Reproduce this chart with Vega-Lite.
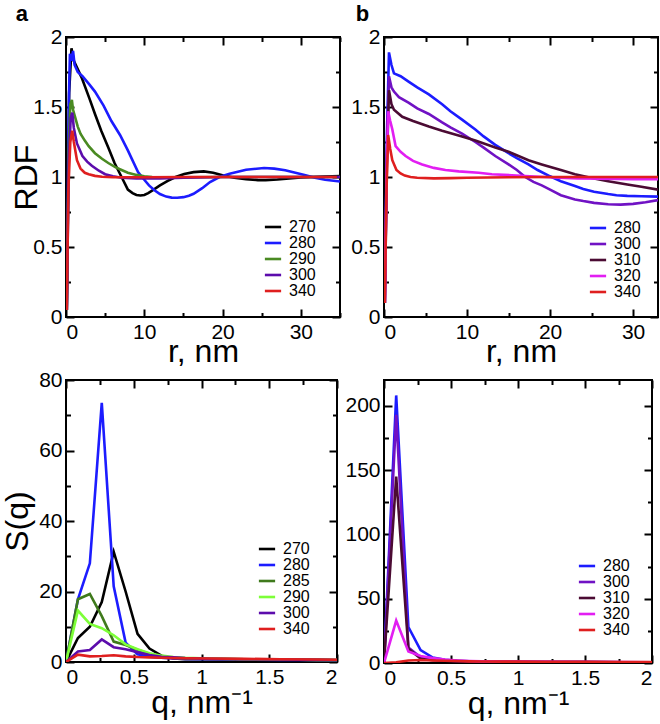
{
  "$schema": "https://vega.github.io/schema/vega-lite/v6.json",
  "padding": {"left": 0, "top": 2, "right": 2, "bottom": 2},
  "background": "white",
  "config": {
    "font": "Liberation Sans",
    "view": {"stroke": "black", "strokeWidth": 2},
    "axis": {"grid": false, "domain": false, "tickColor": "black", "tickWidth": 2, "labelColor": "black", "labelFont": "Liberation Sans", "labelFontSize": 21, "titleFont": "Liberation Sans", "titleFontSize": 32, "titleFontWeight": "normal", "titleColor": "black", "format": "~r", "labelPadding": 12},
    "legend": {"orient": "none", "title": null, "symbolType": "M-1.3,0H1.3", "symbolStrokeWidth": 2.6, "symbolSize": 156, "labelFontSize": 16, "labelFont": "Liberation Sans", "labelColor": "black", "rowPadding": 0, "labelOffset": 8, "padding": 0},
    "title": {"font": "Liberation Sans", "fontSize": 22, "fontWeight": "bold", "color": "black", "anchor": "start", "frame": "bounds"}
  },
  "datasets": {
    "rdfA": [
      {"T":"270","r":0.1,"g":0.05},{"T":"270","r":0.4,"g":1.6},{"T":"270","r":0.7,"g":1.92},{"T":"270","r":1.0,"g":1.83},{"T":"270","r":2.0,"g":1.71},{"T":"270","r":3.0,"g":1.56},{"T":"270","r":3.7,"g":1.45},{"T":"270","r":4.5,"g":1.33},{"T":"270","r":5.4,"g":1.21},{"T":"270","r":6.2,"g":1.1},{"T":"270","r":7.1,"g":1.0},{"T":"270","r":7.9,"g":0.91},{"T":"270","r":8.5,"g":0.885},{"T":"270","r":9.0,"g":0.872},{"T":"270","r":9.5,"g":0.868},{"T":"270","r":10.0,"g":0.872},{"T":"270","r":10.5,"g":0.885},{"T":"270","r":11.2,"g":0.91},{"T":"270","r":12.0,"g":0.94},{"T":"270","r":13.0,"g":0.972},{"T":"270","r":14.0,"g":1.0},{"T":"270","r":15.1,"g":1.022},{"T":"270","r":16.3,"g":1.035},{"T":"270","r":17.6,"g":1.04},{"T":"270","r":18.8,"g":1.03},{"T":"270","r":20.1,"g":1.01},{"T":"270","r":21.5,"g":0.995},{"T":"270","r":23.0,"g":0.985},{"T":"270","r":24.5,"g":0.978},{"T":"270","r":25.5,"g":0.977},{"T":"270","r":27.0,"g":0.982},{"T":"270","r":28.5,"g":0.99},{"T":"270","r":30.0,"g":0.996},{"T":"270","r":31.5,"g":1.0},{"T":"270","r":33.0,"g":1.004},{"T":"270","r":35.0,"g":1.007},
      {"T":"280","r":0.1,"g":0.05},{"T":"280","r":0.35,"g":1.5},{"T":"280","r":0.5,"g":1.88},{"T":"280","r":0.7,"g":1.83},{"T":"280","r":0.9,"g":1.9},{"T":"280","r":1.1,"g":1.8},{"T":"280","r":1.5,"g":1.75},{"T":"280","r":2.1,"g":1.72},{"T":"280","r":3.0,"g":1.66},{"T":"280","r":3.7,"g":1.61},{"T":"280","r":4.8,"g":1.51},{"T":"280","r":5.8,"g":1.4},{"T":"280","r":6.9,"g":1.3},{"T":"280","r":7.9,"g":1.19},{"T":"280","r":9.2,"g":1.035},{"T":"280","r":10.0,"g":0.98},{"T":"280","r":10.6,"g":0.94},{"T":"280","r":11.3,"g":0.905},{"T":"280","r":12.0,"g":0.878},{"T":"280","r":12.8,"g":0.86},{"T":"280","r":13.5,"g":0.853},{"T":"280","r":14.2,"g":0.852},{"T":"280","r":15.0,"g":0.856},{"T":"280","r":15.7,"g":0.866},{"T":"280","r":16.3,"g":0.88},{"T":"280","r":17.4,"g":0.92},{"T":"280","r":18.4,"g":0.964},{"T":"280","r":19.6,"g":1.0},{"T":"280","r":20.9,"g":1.024},{"T":"280","r":23.0,"g":1.052},{"T":"280","r":25.3,"g":1.064},{"T":"280","r":26.6,"g":1.06},{"T":"280","r":28.0,"g":1.048},{"T":"280","r":29.3,"g":1.03},{"T":"280","r":30.6,"g":1.012},{"T":"280","r":31.8,"g":0.995},{"T":"280","r":33.1,"g":0.98},{"T":"280","r":35.0,"g":0.968},
      {"T":"290","r":0.1,"g":0.05},{"T":"290","r":0.35,"g":1.2},{"T":"290","r":0.55,"g":1.52},{"T":"290","r":0.75,"g":1.55},{"T":"290","r":0.9,"g":1.48},{"T":"290","r":1.2,"g":1.42},{"T":"290","r":1.5,"g":1.36},{"T":"290","r":1.85,"g":1.31},{"T":"290","r":2.4,"g":1.26},{"T":"290","r":2.9,"g":1.22},{"T":"290","r":3.7,"g":1.17},{"T":"290","r":4.6,"g":1.13},{"T":"290","r":5.4,"g":1.1},{"T":"290","r":6.3,"g":1.07},{"T":"290","r":7.1,"g":1.05},{"T":"290","r":7.9,"g":1.03},{"T":"290","r":9.0,"g":1.015},{"T":"290","r":10.0,"g":1.005},{"T":"290","r":11.0,"g":1.0},{"T":"290","r":12.0,"g":0.998},{"T":"290","r":15.0,"g":0.998},{"T":"290","r":20.0,"g":1.0},{"T":"290","r":25.0,"g":1.0},{"T":"290","r":30.0,"g":1.0},{"T":"290","r":35.0,"g":1.0},
      {"T":"300","r":0.1,"g":0.05},{"T":"300","r":0.35,"g":1.1},{"T":"300","r":0.6,"g":1.42},{"T":"300","r":0.8,"g":1.46},{"T":"300","r":1.0,"g":1.35},{"T":"300","r":1.4,"g":1.24},{"T":"300","r":2.1,"g":1.15},{"T":"300","r":2.7,"g":1.11},{"T":"300","r":3.3,"g":1.08},{"T":"300","r":4.2,"g":1.045},{"T":"300","r":5.0,"g":1.02},{"T":"300","r":6.0,"g":1.005},{"T":"300","r":7.1,"g":0.995},{"T":"300","r":9.0,"g":0.99},{"T":"300","r":12.0,"g":0.99},{"T":"300","r":15.0,"g":0.995},{"T":"300","r":20.0,"g":1.0},{"T":"300","r":25.0,"g":1.0},{"T":"300","r":30.0,"g":1.0},{"T":"300","r":35.0,"g":1.0},
      {"T":"340","r":0.1,"g":0.05},{"T":"340","r":0.3,"g":0.9},{"T":"340","r":0.55,"g":1.25},{"T":"340","r":0.8,"g":1.33},{"T":"340","r":1.0,"g":1.25},{"T":"340","r":1.4,"g":1.12},{"T":"340","r":1.85,"g":1.06},{"T":"340","r":2.4,"g":1.03},{"T":"340","r":2.9,"g":1.02},{"T":"340","r":3.7,"g":1.008},{"T":"340","r":4.6,"g":1.002},{"T":"340","r":6.0,"g":0.998},{"T":"340","r":10.0,"g":0.998},{"T":"340","r":15.0,"g":1.0},{"T":"340","r":20.0,"g":1.0},{"T":"340","r":25.0,"g":1.0},{"T":"340","r":30.0,"g":1.0},{"T":"340","r":34.6,"g":1.0}
    ],
    "rdfB": [
      {"T":"280","r":0.1,"g":0.1},{"T":"280","r":0.35,"g":1.3},{"T":"280","r":0.6,"g":1.89},{"T":"280","r":0.9,"g":1.8},{"T":"280","r":1.2,"g":1.74},{"T":"280","r":2.0,"g":1.72},{"T":"280","r":3.0,"g":1.68},{"T":"280","r":4.0,"g":1.64},{"T":"280","r":5.4,"g":1.59},{"T":"280","r":7.0,"g":1.52},{"T":"280","r":8.0,"g":1.47},{"T":"280","r":9.4,"g":1.41},{"T":"280","r":11.0,"g":1.34},{"T":"280","r":12.0,"g":1.29},{"T":"280","r":13.4,"g":1.23},{"T":"280","r":15.0,"g":1.17},{"T":"280","r":16.0,"g":1.135},{"T":"280","r":17.4,"g":1.09},{"T":"280","r":18.5,"g":1.05},{"T":"280","r":20.0,"g":1.005},{"T":"280","r":21.3,"g":0.97},{"T":"280","r":23.0,"g":0.935},{"T":"280","r":24.0,"g":0.915},{"T":"280","r":25.3,"g":0.895},{"T":"280","r":27.0,"g":0.878},{"T":"280","r":28.0,"g":0.87},{"T":"280","r":29.3,"g":0.865},{"T":"280","r":31.0,"g":0.862},{"T":"280","r":33.0,"g":0.86},
      {"T":"300","r":0.1,"g":0.1},{"T":"300","r":0.35,"g":1.2},{"T":"300","r":0.6,"g":1.72},{"T":"300","r":0.9,"g":1.64},{"T":"300","r":1.2,"g":1.61},{"T":"300","r":1.8,"g":1.57},{"T":"300","r":3.0,"g":1.53},{"T":"300","r":4.0,"g":1.49},{"T":"300","r":5.4,"g":1.45},{"T":"300","r":7.0,"g":1.39},{"T":"300","r":8.0,"g":1.355},{"T":"300","r":9.4,"g":1.31},{"T":"300","r":11.0,"g":1.25},{"T":"300","r":12.0,"g":1.21},{"T":"300","r":13.4,"g":1.15},{"T":"300","r":15.0,"g":1.09},{"T":"300","r":16.0,"g":1.05},{"T":"300","r":17.0,"g":1.0},{"T":"300","r":18.0,"g":0.965},{"T":"300","r":19.0,"g":0.94},{"T":"300","r":20.0,"g":0.91},{"T":"300","r":21.3,"g":0.87},{"T":"300","r":23.0,"g":0.84},{"T":"300","r":24.0,"g":0.828},{"T":"300","r":25.3,"g":0.815},{"T":"300","r":27.0,"g":0.805},{"T":"300","r":28.5,"g":0.803},{"T":"300","r":30.0,"g":0.808},{"T":"300","r":31.5,"g":0.82},{"T":"300","r":33.0,"g":0.835},
      {"T":"310","r":0.1,"g":0.1},{"T":"310","r":0.35,"g":1.1},{"T":"310","r":0.6,"g":1.62},{"T":"310","r":0.9,"g":1.52},{"T":"310","r":1.2,"g":1.48},{"T":"310","r":2.2,"g":1.43},{"T":"310","r":3.5,"g":1.4},{"T":"310","r":5.4,"g":1.36},{"T":"310","r":7.0,"g":1.33},{"T":"310","r":9.4,"g":1.29},{"T":"310","r":11.0,"g":1.26},{"T":"310","r":13.4,"g":1.21},{"T":"310","r":15.0,"g":1.18},{"T":"310","r":17.4,"g":1.12},{"T":"310","r":19.0,"g":1.09},{"T":"310","r":21.3,"g":1.05},{"T":"310","r":23.0,"g":1.02},{"T":"310","r":25.3,"g":0.99},{"T":"310","r":27.0,"g":0.97},{"T":"310","r":29.3,"g":0.946},{"T":"310","r":31.0,"g":0.93},{"T":"310","r":33.0,"g":0.91},
      {"T":"320","r":0.1,"g":0.1},{"T":"320","r":0.3,"g":1.0},{"T":"320","r":0.5,"g":1.47},{"T":"320","r":0.75,"g":1.4},{"T":"320","r":1.0,"g":1.34},{"T":"320","r":1.4,"g":1.22},{"T":"320","r":2.0,"g":1.18},{"T":"320","r":2.6,"g":1.15},{"T":"320","r":3.5,"g":1.115},{"T":"320","r":4.6,"g":1.09},{"T":"320","r":6.0,"g":1.065},{"T":"320","r":7.4,"g":1.05},{"T":"320","r":9.0,"g":1.04},{"T":"320","r":11.4,"g":1.03},{"T":"320","r":13.0,"g":1.02},{"T":"320","r":15.4,"g":1.013},{"T":"320","r":17.0,"g":1.007},{"T":"320","r":19.3,"g":1.0},{"T":"320","r":21.0,"g":0.995},{"T":"320","r":23.3,"g":0.99},{"T":"320","r":26.0,"g":0.987},{"T":"320","r":30.0,"g":0.985},{"T":"320","r":33.0,"g":0.985},
      {"T":"340","r":0.1,"g":0.1},{"T":"340","r":0.3,"g":0.9},{"T":"340","r":0.5,"g":1.3},{"T":"340","r":0.75,"g":1.2},{"T":"340","r":1.0,"g":1.12},{"T":"340","r":1.5,"g":1.05},{"T":"340","r":2.0,"g":1.025},{"T":"340","r":2.5,"g":1.01},{"T":"340","r":3.2,"g":1.0},{"T":"340","r":4.0,"g":0.995},{"T":"340","r":6.0,"g":0.99},{"T":"340","r":8.0,"g":0.992},{"T":"340","r":10.0,"g":0.995},{"T":"340","r":15.0,"g":0.998},{"T":"340","r":20.0,"g":1.0},{"T":"340","r":25.0,"g":1.0},{"T":"340","r":30.0,"g":1.0},{"T":"340","r":33.0,"g":1.0}
    ],
    "sqA": [
      {"T":"270","q":0,"s":0},{"T":"270","q":0.088,"s":6.8},{"T":"270","q":0.176,"s":10},{"T":"270","q":0.264,"s":17},{"T":"270","q":0.352,"s":31.3},{"T":"270","q":0.44,"s":20},{"T":"270","q":0.528,"s":8},{"T":"270","q":0.616,"s":3.8},{"T":"270","q":0.704,"s":1.8},{"T":"270","q":0.792,"s":1.0},{"T":"270","q":0.88,"s":0.8},{"T":"270","q":1.06,"s":0.8},{"T":"270","q":1.32,"s":0.7},{"T":"270","q":1.58,"s":0.6},{"T":"270","q":1.85,"s":0.55},{"T":"270","q":2.0,"s":0.5},
      {"T":"280","q":0,"s":0},{"T":"280","q":0.088,"s":17.8},{"T":"280","q":0.176,"s":28},{"T":"280","q":0.264,"s":73.5},{"T":"280","q":0.352,"s":21.5},{"T":"280","q":0.44,"s":5.5},{"T":"280","q":0.528,"s":2.2},{"T":"280","q":0.616,"s":1.5},{"T":"280","q":0.704,"s":1.2},{"T":"280","q":0.792,"s":1.0},{"T":"280","q":0.88,"s":0.9},{"T":"280","q":1.06,"s":0.8},{"T":"280","q":1.32,"s":0.7},{"T":"280","q":1.58,"s":0.6},{"T":"280","q":1.85,"s":0.55},{"T":"280","q":2.0,"s":0.5},
      {"T":"285","q":0,"s":0},{"T":"285","q":0.088,"s":17.8},{"T":"285","q":0.176,"s":19.3},{"T":"285","q":0.264,"s":13},{"T":"285","q":0.352,"s":5.8},{"T":"285","q":0.44,"s":4.8},{"T":"285","q":0.528,"s":3.5},{"T":"285","q":0.616,"s":2.3},{"T":"285","q":0.704,"s":1.5},{"T":"285","q":0.792,"s":1.2},{"T":"285","q":0.88,"s":1.0},{"T":"285","q":1.06,"s":0.9},{"T":"285","q":1.32,"s":0.8},{"T":"285","q":1.58,"s":0.7},{"T":"285","q":1.85,"s":0.6},{"T":"285","q":2.0,"s":0.55},
      {"T":"290","q":0,"s":0},{"T":"290","q":0.088,"s":14.6},{"T":"290","q":0.176,"s":10.8},{"T":"290","q":0.264,"s":9.6},{"T":"290","q":0.352,"s":7.6},{"T":"290","q":0.44,"s":5.0},{"T":"290","q":0.528,"s":3.6},{"T":"290","q":0.616,"s":2.5},{"T":"290","q":0.704,"s":1.8},{"T":"290","q":0.792,"s":1.4},{"T":"290","q":0.88,"s":1.2},{"T":"290","q":1.06,"s":1.0},{"T":"290","q":1.32,"s":0.8},{"T":"290","q":1.58,"s":0.7},{"T":"290","q":1.85,"s":0.6},{"T":"290","q":2.0,"s":0.55},
      {"T":"300","q":0,"s":0},{"T":"300","q":0.088,"s":3.0},{"T":"300","q":0.176,"s":3.4},{"T":"300","q":0.264,"s":6.4},{"T":"300","q":0.352,"s":4.2},{"T":"300","q":0.44,"s":3.6},{"T":"300","q":0.528,"s":2.8},{"T":"300","q":0.616,"s":2.0},{"T":"300","q":0.704,"s":1.5},{"T":"300","q":0.792,"s":1.3},{"T":"300","q":0.88,"s":1.1},{"T":"300","q":1.06,"s":0.9},{"T":"300","q":1.32,"s":0.8},{"T":"300","q":1.58,"s":0.7},{"T":"300","q":1.85,"s":0.6},{"T":"300","q":2.0,"s":0.55},
      {"T":"340","q":0,"s":0},{"T":"340","q":0.088,"s":2.1},{"T":"340","q":0.176,"s":1.6},{"T":"340","q":0.264,"s":1.7},{"T":"340","q":0.352,"s":1.9},{"T":"340","q":0.44,"s":1.6},{"T":"340","q":0.528,"s":1.4},{"T":"340","q":0.616,"s":1.3},{"T":"340","q":0.704,"s":1.2},{"T":"340","q":0.792,"s":1.1},{"T":"340","q":0.88,"s":1.05},{"T":"340","q":1.06,"s":1.0},{"T":"340","q":1.32,"s":0.9},{"T":"340","q":1.58,"s":0.8},{"T":"340","q":1.85,"s":0.7},{"T":"340","q":2.0,"s":0.65}
    ],
    "sqB": [
      {"T":"280","q":0,"s":0},{"T":"280","q":0.091,"s":208},{"T":"280","q":0.182,"s":28},{"T":"280","q":0.273,"s":10},{"T":"280","q":0.364,"s":4.2},{"T":"280","q":0.455,"s":2.5},{"T":"280","q":0.546,"s":1.8},{"T":"280","q":0.637,"s":1.4},{"T":"280","q":0.728,"s":1.2},{"T":"280","q":0.9,"s":1.0},{"T":"280","q":1.2,"s":0.8},{"T":"280","q":1.5,"s":0.7},{"T":"280","q":1.8,"s":0.6},{"T":"280","q":2.0,"s":0.5},
      {"T":"300","q":0,"s":0},{"T":"300","q":0.091,"s":193},{"T":"300","q":0.182,"s":12},{"T":"300","q":0.273,"s":4.5},{"T":"300","q":0.364,"s":2.8},{"T":"300","q":0.455,"s":2.0},{"T":"300","q":0.546,"s":1.5},{"T":"300","q":0.637,"s":1.2},{"T":"300","q":0.728,"s":1.0},{"T":"300","q":0.9,"s":0.9},{"T":"300","q":1.2,"s":0.8},{"T":"300","q":1.5,"s":0.7},{"T":"300","q":1.8,"s":0.6},{"T":"300","q":2.0,"s":0.5},
      {"T":"310","q":0,"s":0},{"T":"310","q":0.091,"s":145},{"T":"310","q":0.182,"s":11},{"T":"310","q":0.273,"s":3.5},{"T":"310","q":0.364,"s":2.2},{"T":"310","q":0.455,"s":1.7},{"T":"310","q":0.546,"s":1.3},{"T":"310","q":0.637,"s":1.1},{"T":"310","q":0.728,"s":1.0},{"T":"310","q":0.9,"s":0.9},{"T":"310","q":1.2,"s":0.8},{"T":"310","q":1.5,"s":0.7},{"T":"310","q":1.8,"s":0.6},{"T":"310","q":2.0,"s":0.5},
      {"T":"320","q":0,"s":0},{"T":"320","q":0.091,"s":33},{"T":"320","q":0.182,"s":9},{"T":"320","q":0.273,"s":5.5},{"T":"320","q":0.364,"s":3.8},{"T":"320","q":0.455,"s":2.6},{"T":"320","q":0.546,"s":2.0},{"T":"320","q":0.637,"s":1.6},{"T":"320","q":0.728,"s":1.3},{"T":"320","q":0.9,"s":1.1},{"T":"320","q":1.2,"s":0.9},{"T":"320","q":1.5,"s":0.8},{"T":"320","q":1.8,"s":0.7},{"T":"320","q":2.0,"s":0.6},
      {"T":"340","q":0,"s":0},{"T":"340","q":0.091,"s":0.6},{"T":"340","q":0.182,"s":2.0},{"T":"340","q":0.273,"s":2.3},{"T":"340","q":0.364,"s":2.0},{"T":"340","q":0.455,"s":1.7},{"T":"340","q":0.546,"s":1.5},{"T":"340","q":0.637,"s":1.3},{"T":"340","q":0.728,"s":1.2},{"T":"340","q":0.9,"s":1.1},{"T":"340","q":1.2,"s":1.0},{"T":"340","q":1.5,"s":0.9},{"T":"340","q":1.8,"s":0.8},{"T":"340","q":2.0,"s":0.7}
    ]
  },
  "vconcat": [
    {
      "hconcat": [
        {
          "width": 274, "height": 280,
          "title": {"text": "a", "offset": 0, "dx": 5},
          "data": {"name": "rdfA"},
          "layer": [
            {
              "mark": {"type": "line", "strokeWidth": 2.6, "clip": true},
              "encoding": {
                "x": {"field": "r", "type": "quantitative", "scale": {"domain": [0, 35], "nice": false, "zero": false},
                  "axis": {"orient": "bottom", "values": [0,5,10,15,20,25,30,35], "labelExpr": "datum.value % 10 === 0 ? datum.label : ''", "tickSize": {"condition": {"test": "datum.value % 10 === 0", "value": -8}, "value": -4.5}, "title": "r, nm", "titlePadding": -6}},
                "y": {"field": "g", "type": "quantitative", "scale": {"domain": [0, 2], "nice": false, "zero": false},
                  "axis": {"orient": "left", "values": [0,0.25,0.5,0.75,1,1.25,1.5,1.75,2], "labelExpr": "datum.value % 0.5 === 0 ? datum.label : ''", "tickSize": {"condition": {"test": "datum.value % 0.5 === 0", "value": -8}, "value": -4.5}, "title": "RDF", "titlePadding": -11}},
                "color": {"field": "T", "type": "nominal", "scale": {"domain": ["270","280","290","300","340"], "range": ["#000000","#1c1cff","#4a8a22","#5c0cac","#df1f1f"]},
                  "legend": {"legendX": 199, "legendY": 182}}
              }
            },
            {
              "mark": {"type": "line", "opacity": 0},
              "encoding": {
                "x": {"field": "r", "type": "quantitative", "axis": {"orient": "top", "values": [0,5,10,15,20,25,30,35], "labels": false, "title": null, "tickSize": {"condition": {"test": "datum.value % 10 === 0", "value": -8}, "value": -4.5}}},
                "y": {"field": "g", "type": "quantitative", "axis": {"orient": "right", "values": [0,0.25,0.5,0.75,1,1.25,1.5,1.75,2], "labels": false, "title": null, "tickSize": {"condition": {"test": "datum.value % 0.5 === 0", "value": -8}, "value": -4.5}}}
              }
            }
          ],
          "resolve": {"axis": {"x": "independent", "y": "independent"}}
        },
        {
          "width": 274, "height": 280,
          "title": {"text": "b", "offset": 0, "dx": 5},
          "data": {"name": "rdfB"},
          "layer": [
            {
              "mark": {"type": "line", "strokeWidth": 2.6, "clip": true},
              "encoding": {
                "x": {"field": "r", "type": "quantitative", "scale": {"domain": [0, 33], "nice": false, "zero": false},
                  "axis": {"orient": "bottom", "values": [0,5,10,15,20,25,30], "labelExpr": "datum.value % 10 === 0 ? datum.label : ''", "tickSize": {"condition": {"test": "datum.value % 10 === 0", "value": -8}, "value": -4.5}, "title": "r, nm", "titlePadding": -6}},
                "y": {"field": "g", "type": "quantitative", "scale": {"domain": [0, 2], "nice": false, "zero": false},
                  "axis": {"orient": "left", "values": [0,0.25,0.5,0.75,1,1.25,1.5,1.75,2], "labelExpr": "datum.value % 0.5 === 0 ? datum.label : ''", "tickSize": {"condition": {"test": "datum.value % 0.5 === 0", "value": -8}, "value": -4.5}, "title": null}},
                "color": {"field": "T", "type": "nominal", "scale": {"domain": ["280","300","310","320","340"], "range": ["#1c1cff","#7012c4","#4b0b33","#e21ef2","#df1f1f"]},
                  "legend": {"legendX": 206, "legendY": 183}}
              }
            },
            {
              "mark": {"type": "line", "opacity": 0},
              "encoding": {
                "x": {"field": "r", "type": "quantitative", "axis": {"orient": "top", "values": [0,5,10,15,20,25,30], "labels": false, "title": null, "tickSize": {"condition": {"test": "datum.value % 10 === 0", "value": -8}, "value": -4.5}}},
                "y": {"field": "g", "type": "quantitative", "axis": {"orient": "right", "values": [0,0.25,0.5,0.75,1,1.25,1.5,1.75,2], "labels": false, "title": null, "tickSize": {"condition": {"test": "datum.value % 0.5 === 0", "value": -8}, "value": -4.5}}}
              }
            }
          ],
          "resolve": {"axis": {"x": "independent", "y": "independent"}}
        }
      ],
      "spacing": 7,
      "resolve": {"scale": {"color": "independent"}}
    },
    {
      "hconcat": [
        {
          "width": 271, "height": 282,
          "data": {"name": "sqA"},
          "layer": [
            {
              "mark": {"type": "line", "strokeWidth": 2.6, "clip": true},
              "encoding": {
                "x": {"field": "q", "type": "quantitative", "scale": {"domain": [0, 2], "nice": false, "zero": false},
                  "axis": {"orient": "bottom", "values": [0,0.25,0.5,0.75,1,1.25,1.5,1.75,2], "labelExpr": "datum.value % 0.5 === 0 ? datum.label : ''", "tickSize": {"condition": {"test": "datum.value % 0.5 === 0", "value": -8}, "value": -4.5}, "title": "q, nm⁻¹", "titlePadding": 0}},
                "y": {"field": "s", "type": "quantitative", "scale": {"domain": [0, 80], "nice": false, "zero": false},
                  "axis": {"orient": "left", "values": [0,10,20,30,40,50,60,70,80], "labelExpr": "datum.value % 20 === 0 ? datum.label : ''", "tickSize": {"condition": {"test": "datum.value % 20 === 0", "value": -8}, "value": -4.5}, "title": "S(q)", "titlePadding": 4}},
                "color": {"field": "T", "type": "nominal", "scale": {"domain": ["270","280","285","290","300","340"], "range": ["#000000","#1c1cff","#3f7a1c","#7dff38","#5c0cac","#df1f1f"]},
                  "legend": {"legendX": 193, "legendY": 161}}
              }
            },
            {
              "mark": {"type": "line", "opacity": 0},
              "encoding": {
                "x": {"field": "q", "type": "quantitative", "axis": {"orient": "top", "values": [0,0.25,0.5,0.75,1,1.25,1.5,1.75,2], "labels": false, "title": null, "tickSize": {"condition": {"test": "datum.value % 0.5 === 0", "value": -8}, "value": -4.5}}},
                "y": {"field": "s", "type": "quantitative", "axis": {"orient": "right", "values": [0,10,20,30,40,50,60,70,80], "labels": false, "title": null, "tickSize": {"condition": {"test": "datum.value % 20 === 0", "value": -8}, "value": -4.5}}}
              }
            }
          ],
          "resolve": {"axis": {"x": "independent", "y": "independent"}}
        },
        {
          "width": 268, "height": 283,
          "data": {"name": "sqB"},
          "layer": [
            {
              "mark": {"type": "line", "strokeWidth": 2.6, "clip": true},
              "encoding": {
                "x": {"field": "q", "type": "quantitative", "scale": {"domain": [0, 2], "nice": false, "zero": false},
                  "axis": {"orient": "bottom", "values": [0,0.25,0.5,0.75,1,1.25,1.5,1.75,2], "labelExpr": "datum.value % 0.5 === 0 ? datum.label : ''", "tickSize": {"condition": {"test": "datum.value % 0.5 === 0", "value": -8}, "value": -4.5}, "title": "q, nm⁻¹", "titlePadding": 0}},
                "y": {"field": "s", "type": "quantitative", "scale": {"domain": [0, 220], "nice": false, "zero": false},
                  "axis": {"orient": "left", "values": [0,25,50,75,100,125,150,175,200], "labelExpr": "datum.value % 50 === 0 ? datum.label : ''", "tickSize": {"condition": {"test": "datum.value % 50 === 0", "value": -8}, "value": -4.5}, "title": null}},
                "color": {"field": "T", "type": "nominal", "scale": {"domain": ["280","300","310","320","340"], "range": ["#1c1cff","#7012c4","#4b0b33","#e21ef2","#df1f1f"]},
                  "legend": {"legendX": 195, "legendY": 178}}
              }
            },
            {
              "mark": {"type": "line", "opacity": 0},
              "encoding": {
                "x": {"field": "q", "type": "quantitative", "axis": {"orient": "top", "values": [0,0.25,0.5,0.75,1,1.25,1.5,1.75,2], "labels": false, "title": null, "tickSize": {"condition": {"test": "datum.value % 0.5 === 0", "value": -8}, "value": -4.5}}},
                "y": {"field": "s", "type": "quantitative", "axis": {"orient": "right", "values": [0,25,50,75,100,125,150,175,200], "labels": false, "title": null, "tickSize": {"condition": {"test": "datum.value % 50 === 0", "value": -8}, "value": -4.5}}}
              }
            }
          ],
          "resolve": {"axis": {"x": "independent", "y": "independent"}}
        }
      ],
      "spacing": 4,
      "resolve": {"scale": {"color": "independent"}}
    }
  ],
  "spacing": 0,
  "align": "none",
  "resolve": {"scale": {"color": "independent"}}
}
